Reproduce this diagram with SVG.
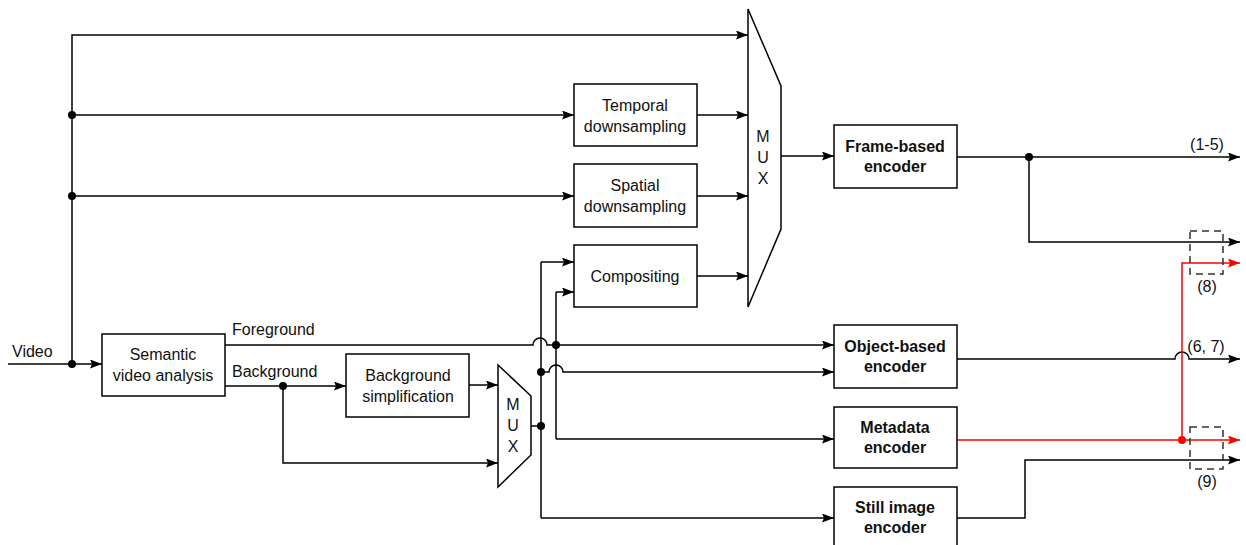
<svg xmlns="http://www.w3.org/2000/svg" width="1246" height="545" viewBox="0 0 1246 545">
<defs>
<marker id="ah" markerUnits="userSpaceOnUse" markerWidth="13" markerHeight="10" refX="12" refY="4.5" orient="auto"><path d="M0,0 L12,4.5 L0,9 L2,4.5 z" fill="#000"/></marker>
<marker id="ahr" markerUnits="userSpaceOnUse" markerWidth="13" markerHeight="10" refX="12" refY="4.5" orient="auto"><path d="M0,0 L12,4.5 L0,9 L2,4.5 z" fill="#f00"/></marker>
<style>
.box{fill:#fff;stroke:#000;stroke-width:1.5}
.t{font-family:"Liberation Sans",Arial,sans-serif;font-size:16px;fill:#111;text-anchor:middle}
.b{font-weight:bold}
.l{font-family:"Liberation Sans",Arial,sans-serif;font-size:16px;fill:#111}
.c{fill:none;stroke:#000;stroke-width:1.5}
.a{marker-end:url(#ah)}
.r{fill:none;stroke:#f00;stroke-width:1.5}
.ra{marker-end:url(#ahr)}
.d{fill:#000}
.dr{fill:#f00}
.dash{fill:none;stroke:#333;stroke-width:1.5;stroke-dasharray:7,5}
</style>
</defs>
<rect width="1246" height="545" fill="#fff"/>
<g id="connectors">
<path class="c a" d="M8,364 H102"/>
<path class="c a" d="M72,364 V35 H748"/>
<path class="c a" d="M72,115 H574"/>
<path class="c a" d="M72,196 H574"/>
<path class="c a" d="M697,115 H748"/>
<path class="c a" d="M697,196 H748"/>
<path class="c a" d="M697,276 H748"/>
<path class="c a" d="M781,156 H834"/>
<path class="c a" d="M957,157 H1240"/>
<path class="c a" d="M1029,157 V242 H1240"/>
<path class="c a" d="M225,345 H533 A7,7 0 0 1 547,345 H834"/>
<path class="c a" d="M225,386 H346"/>
<path class="c a" d="M283,386 V463 H498"/>
<path class="c a" d="M469,385 H498"/>
<path class="c" d="M531,426 H541"/>
<path class="c" d="M541,262 V518"/>
<path class="c a" d="M541,262 H574"/>
<path class="c a" d="M541,518 H834"/>
<path class="c a" d="M541,372 H549 A7,7 0 0 1 563,372 H834"/>
<path class="c" d="M556,292 V439"/>
<path class="c a" d="M556,292 H574"/>
<path class="c a" d="M556,439 H834"/>
<path class="c a" d="M957,359 H1175 A7,7 0 0 1 1189,359 H1240"/>
<path class="r ra" d="M957,440 H1240"/>
<path class="r ra" d="M1182,440 V263 H1240"/>
<path class="c a" d="M957,518 H1025 V460 H1240"/>
<circle class="d" cx="72" cy="364" r="4"/>
<circle class="d" cx="72" cy="115" r="4"/>
<circle class="d" cx="72" cy="196" r="4"/>
<circle class="d" cx="1029" cy="157" r="4"/>
<circle class="d" cx="283" cy="386" r="4"/>
<circle class="d" cx="556" cy="345" r="4"/>
<circle class="d" cx="541" cy="372" r="4"/>
<circle class="d" cx="541" cy="426" r="4"/>
<circle class="dr" cx="1182" cy="440" r="4"/>
<rect class="dash" x="1190" y="231" width="33" height="43"/>
<rect class="dash" x="1190" y="427" width="33" height="42"/>
</g>
<g id="labels">
<text class="l" x="12" y="357">Video</text>
<text class="l" x="232" y="335">Foreground</text>
<text class="l" x="232" y="377">Background</text>
<text class="t" x="1207" y="150">(1-5)</text>
<text class="t" x="1207" y="292">(8)</text>
<text class="t" x="1206" y="352">(6, 7)</text>
<text class="t" x="1207" y="487">(9)</text>
</g>
<g id="semantic">
<rect class="box" x="102" y="334" width="123" height="62"/>
<text class="t" x="163" y="360">Semantic</text>
<text class="t" x="163" y="381">video analysis</text>
</g>
<g id="temporal">
<rect class="box" x="574" y="84" width="123" height="62"/>
<text class="t" x="635" y="111">Temporal</text>
<text class="t" x="635" y="132">downsampling</text>
</g>
<g id="spatial">
<rect class="box" x="574" y="164" width="123" height="63"/>
<text class="t" x="635" y="191">Spatial</text>
<text class="t" x="635" y="212">downsampling</text>
</g>
<g id="compositing">
<rect class="box" x="574" y="245" width="123" height="62"/>
<text class="t" x="635" y="282">Compositing</text>
</g>
<g id="bgsimp">
<rect class="box" x="346" y="354" width="123" height="63"/>
<text class="t" x="408" y="381">Background</text>
<text class="t" x="408" y="402">simplification</text>
</g>
<g id="mux1">
<path class="box" d="M748,9 L781,86 V229 L748,307 Z"/>
<text class="t" x="763" y="142">M</text>
<text class="t" x="763" y="163">U</text>
<text class="t" x="763" y="184">X</text>
</g>
<g id="mux2">
<path class="box" d="M498,365 L531,396 V455 L498,487 Z"/>
<text class="t" x="513" y="410">M</text>
<text class="t" x="513" y="431">U</text>
<text class="t" x="513" y="452">X</text>
</g>
<g id="frame">
<rect class="box" x="834" y="125" width="123" height="63"/>
<text class="t b" x="895" y="152">Frame-based</text>
<text class="t b" x="895" y="172">encoder</text>
</g>
<g id="object">
<rect class="box" x="834" y="325" width="123" height="63"/>
<text class="t b" x="895" y="352">Object-based</text>
<text class="t b" x="895" y="372">encoder</text>
</g>
<g id="metadata">
<rect class="box" x="834" y="407" width="123" height="61"/>
<text class="t b" x="895" y="433">Metadata</text>
<text class="t b" x="895" y="453">encoder</text>
</g>
<g id="still">
<rect class="box" x="834" y="487" width="123" height="62"/>
<text class="t b" x="895" y="513">Still image</text>
<text class="t b" x="895" y="533">encoder</text>
</g>
</svg>
